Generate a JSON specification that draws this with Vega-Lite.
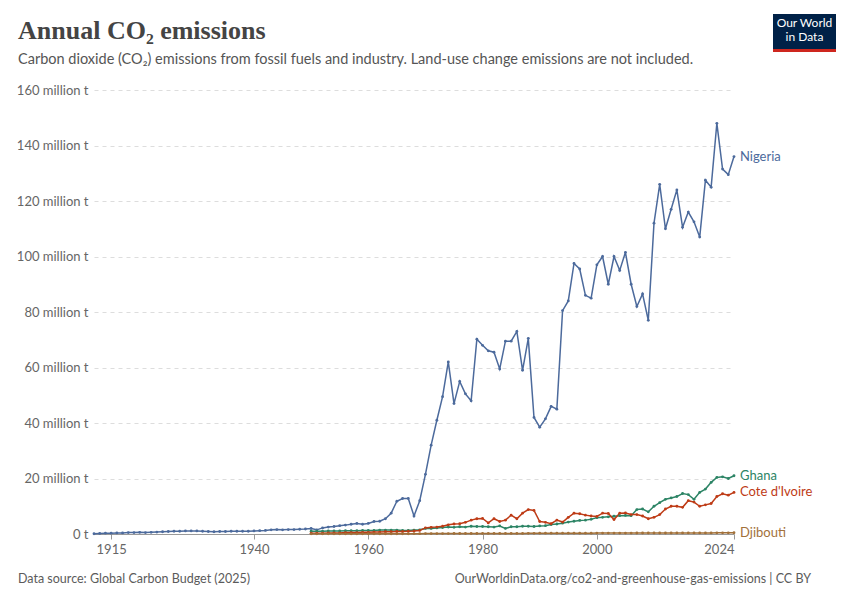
{
  "$schema": "https://vega.github.io/schema/vega-lite/v6.json",
  "width": 850,
  "height": 600,
  "autosize": {"type": "fit", "contains": "padding"},
  "padding": {"left": 16, "right": 14, "top": 14, "bottom": 14},
  "background": "#ffffff",
  "data": {
    "values": [
      {"year":1912,"Nigeria":0.1},{"year":1913,"Nigeria":0.2},{"year":1914,"Nigeria":0.3},{"year":1915,"Nigeria":0.3},{"year":1916,"Nigeria":0.4},{"year":1917,"Nigeria":0.4},{"year":1918,"Nigeria":0.5},{"year":1919,"Nigeria":0.5},{"year":1920,"Nigeria":0.6},{"year":1921,"Nigeria":0.5},{"year":1922,"Nigeria":0.6},{"year":1923,"Nigeria":0.7},{"year":1924,"Nigeria":0.8},{"year":1925,"Nigeria":0.9},{"year":1926,"Nigeria":1.0},{"year":1927,"Nigeria":1.0},{"year":1928,"Nigeria":1.1},{"year":1929,"Nigeria":1.1},{"year":1930,"Nigeria":1.1},
      {"year":1931,"Nigeria":1.0},{"year":1932,"Nigeria":0.9},{"year":1933,"Nigeria":0.8},{"year":1934,"Nigeria":0.9},{"year":1935,"Nigeria":0.9},{"year":1936,"Nigeria":1.0},{"year":1937,"Nigeria":1.0},{"year":1938,"Nigeria":1.0},{"year":1939,"Nigeria":1.0},{"year":1940,"Nigeria":1.1},
      {"year":1941,"Nigeria":1.2},{"year":1942,"Nigeria":1.3},{"year":1943,"Nigeria":1.5},{"year":1944,"Nigeria":1.6},{"year":1945,"Nigeria":1.5},{"year":1946,"Nigeria":1.6},{"year":1947,"Nigeria":1.6},{"year":1948,"Nigeria":1.7},{"year":1949,"Nigeria":1.8},
      {"year":1950,"Nigeria":2.0,"Ghana":1.0,"Ivory":0.3,"Djibouti":0.05},
      {"year":1951,"Nigeria":1.5,"Ghana":1.0,"Ivory":0.3,"Djibouti":0.05},
      {"year":1952,"Nigeria":2.2,"Ghana":1.0,"Ivory":0.3,"Djibouti":0.05},
      {"year":1953,"Nigeria":2.5,"Ghana":1.1,"Ivory":0.4,"Djibouti":0.06},
      {"year":1954,"Nigeria":2.7,"Ghana":1.1,"Ivory":0.4,"Djibouti":0.06},
      {"year":1955,"Nigeria":3.0,"Ghana":1.1,"Ivory":0.4,"Djibouti":0.06},
      {"year":1956,"Nigeria":3.2,"Ghana":1.2,"Ivory":0.5,"Djibouti":0.07},
      {"year":1957,"Nigeria":3.5,"Ghana":1.2,"Ivory":0.5,"Djibouti":0.07},
      {"year":1958,"Nigeria":3.8,"Ghana":1.2,"Ivory":0.5,"Djibouti":0.07},
      {"year":1959,"Nigeria":3.5,"Ghana":1.3,"Ivory":0.6,"Djibouti":0.08},
      {"year":1960,"Nigeria":3.8,"Ghana":1.3,"Ivory":0.6,"Djibouti":0.08},
      {"year":1961,"Nigeria":4.5,"Ghana":1.3,"Ivory":0.7,"Djibouti":0.08},
      {"year":1962,"Nigeria":4.6,"Ghana":1.4,"Ivory":0.7,"Djibouti":0.09},
      {"year":1963,"Nigeria":5.5,"Ghana":1.4,"Ivory":0.8,"Djibouti":0.09},
      {"year":1964,"Nigeria":7.5,"Ghana":1.4,"Ivory":0.8,"Djibouti":0.1},
      {"year":1965,"Nigeria":11.8,"Ghana":1.4,"Ivory":0.9,"Djibouti":0.1},
      {"year":1966,"Nigeria":12.8,"Ghana":1.3,"Ivory":0.9,"Djibouti":0.1},
      {"year":1967,"Nigeria":12.8,"Ghana":1.3,"Ivory":1.0,"Djibouti":0.1},
      {"year":1968,"Nigeria":6.5,"Ghana":1.4,"Ivory":1.1,"Djibouti":0.12},
      {"year":1969,"Nigeria":12.0,"Ghana":1.5,"Ivory":1.3,"Djibouti":0.12},
      {"year":1970,"Nigeria":21.5,"Ghana":2.0,"Ivory":2.2,"Djibouti":0.15},
      {"year":1971,"Nigeria":32.0,"Ghana":2.0,"Ivory":2.4,"Djibouti":0.15},
      {"year":1972,"Nigeria":41.0,"Ghana":2.2,"Ivory":2.5,"Djibouti":0.15},
      {"year":1973,"Nigeria":49.5,"Ghana":2.3,"Ivory":2.8,"Djibouti":0.16},
      {"year":1974,"Nigeria":62.0,"Ghana":2.5,"Ivory":3.3,"Djibouti":0.16},
      {"year":1975,"Nigeria":47.0,"Ghana":2.4,"Ivory":3.6,"Djibouti":0.17},
      {"year":1976,"Nigeria":55.0,"Ghana":2.6,"Ivory":3.7,"Djibouti":0.17},
      {"year":1977,"Nigeria":50.5,"Ghana":2.5,"Ivory":4.2,"Djibouti":0.18},
      {"year":1978,"Nigeria":48.0,"Ghana":2.8,"Ivory":5.0,"Djibouti":0.18},
      {"year":1979,"Nigeria":70.2,"Ghana":2.7,"Ivory":5.5,"Djibouti":0.18},
      {"year":1980,"Nigeria":68.0,"Ghana":2.7,"Ivory":5.6,"Djibouti":0.2},
      {"year":1981,"Nigeria":66.0,"Ghana":2.6,"Ivory":4.0,"Djibouti":0.2},
      {"year":1982,"Nigeria":65.5,"Ghana":2.5,"Ivory":5.5,"Djibouti":0.2},
      {"year":1983,"Nigeria":59.5,"Ghana":2.9,"Ivory":4.5,"Djibouti":0.2},
      {"year":1984,"Nigeria":69.5,"Ghana":2.0,"Ivory":5.0,"Djibouti":0.2},
      {"year":1985,"Nigeria":69.5,"Ghana":2.6,"Ivory":6.8,"Djibouti":0.22},
      {"year":1986,"Nigeria":73.0,"Ghana":2.6,"Ivory":5.5,"Djibouti":0.22},
      {"year":1987,"Nigeria":59.0,"Ghana":2.8,"Ivory":7.5,"Djibouti":0.22},
      {"year":1988,"Nigeria":70.5,"Ghana":2.8,"Ivory":8.8,"Djibouti":0.24},
      {"year":1989,"Nigeria":42.0,"Ghana":2.7,"Ivory":8.5,"Djibouti":0.24},
      {"year":1990,"Nigeria":38.5,"Ghana":2.9,"Ivory":4.5,"Djibouti":0.3},
      {"year":1991,"Nigeria":41.5,"Ghana":3.0,"Ivory":4.2,"Djibouti":0.3},
      {"year":1992,"Nigeria":46.0,"Ghana":3.4,"Ivory":3.7,"Djibouti":0.3},
      {"year":1993,"Nigeria":45.0,"Ghana":3.6,"Ivory":5.0,"Djibouti":0.3},
      {"year":1994,"Nigeria":80.5,"Ghana":3.9,"Ivory":4.3,"Djibouti":0.3},
      {"year":1995,"Nigeria":84.0,"Ghana":4.3,"Ivory":6.0,"Djibouti":0.3},
      {"year":1996,"Nigeria":97.5,"Ghana":4.6,"Ivory":7.5,"Djibouti":0.3},
      {"year":1997,"Nigeria":95.5,"Ghana":4.9,"Ivory":7.3,"Djibouti":0.3},
      {"year":1998,"Nigeria":86.0,"Ghana":5.0,"Ivory":6.8,"Djibouti":0.3},
      {"year":1999,"Nigeria":85.0,"Ghana":5.3,"Ivory":6.5,"Djibouti":0.3},
      {"year":2000,"Nigeria":97.0,"Ghana":5.9,"Ivory":6.3,"Djibouti":0.32},
      {"year":2001,"Nigeria":100.0,"Ghana":6.0,"Ivory":7.5,"Djibouti":0.32},
      {"year":2002,"Nigeria":90.0,"Ghana":6.2,"Ivory":7.4,"Djibouti":0.32},
      {"year":2003,"Nigeria":100.0,"Ghana":6.4,"Ivory":5.2,"Djibouti":0.33},
      {"year":2004,"Nigeria":95.0,"Ghana":6.6,"Ivory":7.5,"Djibouti":0.33},
      {"year":2005,"Nigeria":101.5,"Ghana":6.7,"Ivory":7.6,"Djibouti":0.34},
      {"year":2006,"Nigeria":90.0,"Ghana":6.6,"Ivory":7.0,"Djibouti":0.34},
      {"year":2007,"Nigeria":82.0,"Ghana":8.8,"Ivory":7.0,"Djibouti":0.35},
      {"year":2008,"Nigeria":86.5,"Ghana":9.0,"Ivory":6.5,"Djibouti":0.35},
      {"year":2009,"Nigeria":77.0,"Ghana":8.0,"Ivory":5.5,"Djibouti":0.35},
      {"year":2010,"Nigeria":112.0,"Ghana":10.0,"Ivory":6.0,"Djibouti":0.36},
      {"year":2011,"Nigeria":126.0,"Ghana":11.3,"Ivory":7.0,"Djibouti":0.36},
      {"year":2012,"Nigeria":110.0,"Ghana":12.5,"Ivory":9.0,"Djibouti":0.37},
      {"year":2013,"Nigeria":117.0,"Ghana":13.0,"Ivory":10.0,"Djibouti":0.37},
      {"year":2014,"Nigeria":124.0,"Ghana":13.5,"Ivory":10.0,"Djibouti":0.38},
      {"year":2015,"Nigeria":110.5,"Ghana":14.6,"Ivory":9.6,"Djibouti":0.38},
      {"year":2016,"Nigeria":116.0,"Ghana":14.2,"Ivory":12.0,"Djibouti":0.39},
      {"year":2017,"Nigeria":112.5,"Ghana":12.5,"Ivory":11.5,"Djibouti":0.39},
      {"year":2018,"Nigeria":107.0,"Ghana":15.0,"Ivory":10.0,"Djibouti":0.4},
      {"year":2019,"Nigeria":127.5,"Ghana":16.2,"Ivory":10.5,"Djibouti":0.4},
      {"year":2020,"Nigeria":125.0,"Ghana":18.6,"Ivory":11.0,"Djibouti":0.4},
      {"year":2021,"Nigeria":148.0,"Ghana":20.4,"Ivory":13.5,"Djibouti":0.42},
      {"year":2022,"Nigeria":131.5,"Ghana":20.6,"Ivory":14.5,"Djibouti":0.42},
      {"year":2023,"Nigeria":129.5,"Ghana":20.0,"Ivory":14.0,"Djibouti":0.43},
      {"year":2024,"Nigeria":136.0,"Ghana":21.0,"Ivory":15.0,"Djibouti":0.44}
    ]
  },
  "layer": [
    {
      "transform": [
        {"fold": ["Nigeria", "Ghana", "Ivory", "Djibouti"], "as": ["key", "value"]},
        {"filter": "isValid(datum.value)"},
        {"calculate": "datum.key == 'Ivory' ? \"Cote d'Ivoire\" : datum.key", "as": "country"}
      ],
      "encoding": {
        "x": {
          "field": "year",
          "type": "quantitative",
          "scale": {"domain": [1912, 2024], "nice": false, "zero": false},
          "axis": {
            "title": null,
            "values": [1915, 1940, 1960, 1980, 2000, 2024],
            "format": "d",
            "grid": false,
            "domainColor": "#999999",
            "tickColor": "#999999",
            "tickSize": 5,
            "labelFont": "Lato",
            "labelFontSize": 13,
            "labelColor": "#666666",
            "labelPadding": 4
          }
        },
        "y": {
          "field": "value",
          "type": "quantitative",
          "scale": {"domain": [0, 160], "nice": false},
          "axis": {
            "title": null,
            "values": [0, 20, 40, 60, 80, 100, 120, 140, 160],
            "labelExpr": "datum.value == 0 ? '0 t' : datum.value + ' million t'",
            "domain": false,
            "ticks": false,
            "gridDash": [4, 4],
            "gridColor": "#dddddd",
            "labelFont": "Lato",
            "labelFontSize": 13,
            "labelColor": "#666666",
            "labelPadding": 6
          }
        },
        "color": {
          "field": "key",
          "type": "nominal",
          "scale": {
            "domain": ["Nigeria", "Ghana", "Ivory", "Djibouti"],
            "range": ["#4c6a9c", "#2c8465", "#be3b16", "#a2713a"]
          },
          "legend": null
        }
      },
      "layer": [
        {"mark": {"type": "line", "strokeWidth": 1.5}, "encoding": {"detail": {"field": "key"}}},
        {"mark": {"type": "point", "filled": true, "size": 8, "opacity": 1}},
        {
          "transform": [{"filter": "datum.year == 2024"}],
          "mark": {"type": "text", "align": "left", "dx": 6, "font": "Lato", "fontSize": 13},
          "encoding": {
            "text": {"field": "country"},
            "yOffset": {"condition": {"test": "datum.key == 'Nigeria'", "value": 3}, "value": 0}
          }
        }
      ]
    },
    {
      "data": {"values": [{"t": "Annual CO₂ emissions"}]},
      "mark": {"type": "text", "align": "left", "baseline": "alphabetic", "font": "Liberation Serif", "fontSize": 26, "fontWeight": "bold", "x": -76, "y": -51},
      "encoding": {"text": {"field": "t"}, "color": {"value": "#444444"}}
    },
    {
      "data": {"values": [{"t": "Carbon dioxide (CO₂) emissions from fossil fuels and industry. Land-use change emissions are not included."}]},
      "mark": {"type": "text", "align": "left", "baseline": "middle", "font": "Lato", "fontSize": 14.5, "x": -76, "y": -30},
      "encoding": {"text": {"field": "t"}, "color": {"value": "#555555"}}
    },
    {
      "data": {"values": [{"t": "Data source: Global Carbon Budget (2025)"}]},
      "mark": {"type": "text", "align": "left", "baseline": "middle", "font": "Lato", "fontSize": 12.5, "x": -76, "y": {"expr": "height + 45"}},
      "encoding": {"text": {"field": "t"}, "color": {"value": "#5b5b5b"}}
    },
    {
      "data": {"values": [{"t": "OurWorldinData.org/co2-and-greenhouse-gas-emissions | CC BY"}]},
      "mark": {"type": "text", "align": "right", "baseline": "middle", "font": "Lato", "fontSize": 12.5, "x": {"expr": "width + 77"}, "y": {"expr": "height + 45"}},
      "encoding": {"text": {"field": "t"}, "color": {"value": "#5b5b5b"}}
    },
    {
      "data": {"values": [{"t": "box"}]},
      "mark": {"type": "rect", "x": {"expr": "width + 39"}, "x2": {"expr": "width + 102"}, "y": -76, "y2": -41},
      "encoding": {"color": {"value": "#002147"}}
    },
    {
      "data": {"values": [{"t": "box"}]},
      "mark": {"type": "rect", "x": {"expr": "width + 39"}, "x2": {"expr": "width + 102"}, "y": -41, "y2": -38},
      "encoding": {"color": {"value": "#ce261e"}}
    },
    {
      "data": {"values": [{"t": ["Our World", "in Data"]}]},
      "mark": {"type": "text", "align": "center", "baseline": "top", "font": "Lato", "fontSize": 12, "lineHeight": 14, "x": {"expr": "width + 70.5"}, "y": -72},
      "encoding": {"text": {"field": "t"}, "color": {"value": "#ffffff"}}
    }
  ],
  "config": {"view": {"stroke": null}, "font": "Lato"}
}
